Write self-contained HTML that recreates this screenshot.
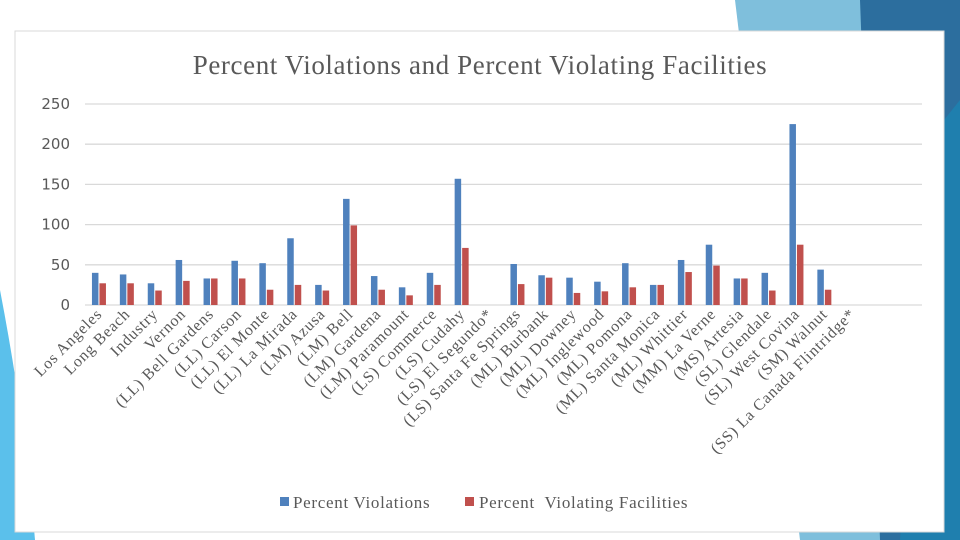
<!DOCTYPE html>
<html><head><meta charset="utf-8"><style>
body{margin:0;width:960px;height:540px;overflow:hidden;background:#fff;font-family:"Liberation Serif",serif;}
svg{display:block}
</style></head><body>
<svg width="960" height="540" id="chart">
<g>
<polygon points="735,0 960,0 960,540 800,540" fill="#7fbfdc"/>
<polygon points="860,0 960,0 960,540 880,540" fill="#2c6e9e"/>
<polygon points="920,150 960,100 960,540 900,540" fill="#1f7fae"/>
<path d="M0,290 Q25,420 35,540 L0,540 Z" fill="#5bc0eb"/>
</g>
<rect x="15" y="31" width="929" height="501" fill="#fff" stroke="#d9d9d9"/>
<text x="480" y="74" text-anchor="middle" font-size="27" letter-spacing="0.6" fill="#595959">Percent Violations and Percent Violating Facilities</text>
<g id="grid"></g><g id="bars"></g><g id="labels"></g>
<g>
<rect x="280" y="497" width="9" height="9" fill="#4f81bd"/>
<text x="293" y="508" font-size="17" letter-spacing="0.7" fill="#595959">Percent Violations</text>
<rect x="465" y="497" width="9" height="9" fill="#c0504d"/>
<text x="479" y="508" font-size="17" letter-spacing="0.7" fill="#595959" xml:space="preserve">Percent  Violating Facilities</text>
</g>
</svg>
<script>
const categories=["Los Angeles","Long Beach","Industry","Vernon","(LL) Bell Gardens","(LL) Carson","(LL) El Monte","(LL) La Mirada","(LM) Azusa","(LM) Bell","(LM) Gardena","(LM) Paramount","(LS) Commerce","(LS) Cudahy","(LS) El Segundo*","(LS) Santa Fe Springs","(ML) Burbank","(ML) Downey","(ML) Inglewood","(ML) Pomona","(ML) Santa Monica","(ML) Whittier","(MM) La Verne","(MS) Artesia","(SL) Glendale","(SL) West Covina","(SM) Walnut","(SS) La Canada Flintridge*","",""];
const violations=[40,38,27,56,33,55,52,83,25,132,36,22,40,157,0,51,37,34,29,52,25,56,75,33,40,225,44,0,0,0];
const facilities=[27,27,18,30,33,33,19,25,18,99,19,12,25,71,0,26,34,15,17,22,25,41,49,33,18,75,19,0,0,0];
const yTicks=[0,50,100,150,200,250];
const NS="http://www.w3.org/2000/svg";
const X0=85,X1=922,Y0=305,Y1=104,YMAX=250;
const slot=(X1-X0)/categories.length;
function y(v){return Y0-(v/YMAX)*(Y0-Y1);}
function xc(i){return X0+slot*(i+0.5);}
function mk(tag,attrs,parent){const e=document.createElementNS(NS,tag);for(const k in attrs)e.setAttribute(k,attrs[k]);parent.appendChild(e);return e;}
const grid=document.getElementById('grid'),bars=document.getElementById('bars'),labels=document.getElementById('labels');
yTicks.forEach(t=>{
 const l=mk('line',{x1:X0,x2:X1,y1:y(t),y2:y(t),stroke:'#d9d9d9','stroke-width':1.3},grid);
 
 
 const tx=mk('text',{x:70,y:y(t)+5,'text-anchor':'end','font-size':15,fill:'#595959','font-family':'"DejaVu Sans",sans-serif'},grid);
 tx.textContent=t;
 
 
});
categories.forEach((c,i)=>{
 const cx=xc(i);
 if(violations[i]>0){
  const b=mk('rect',{x:cx-7,y:y(violations[i]),width:6.5,height:Y0-y(violations[i]),fill:'#4f81bd'},bars);
  
  
 }
 if(facilities[i]>0){
  const b=mk('rect',{x:cx+0.5,y:y(facilities[i]),width:6.5,height:Y0-y(facilities[i]),fill:'#c0504d'},bars);
  
  
 }
 if(c){
  const t=mk('text',{x:cx+4,y:315,'text-anchor':'end','font-size':16,'letter-spacing':0.8,fill:'#595959',transform:'rotate(-45 '+(cx+4)+' 315)'},labels);
  t.textContent=c;
  
  
 }
});
</script>
</body></html>
